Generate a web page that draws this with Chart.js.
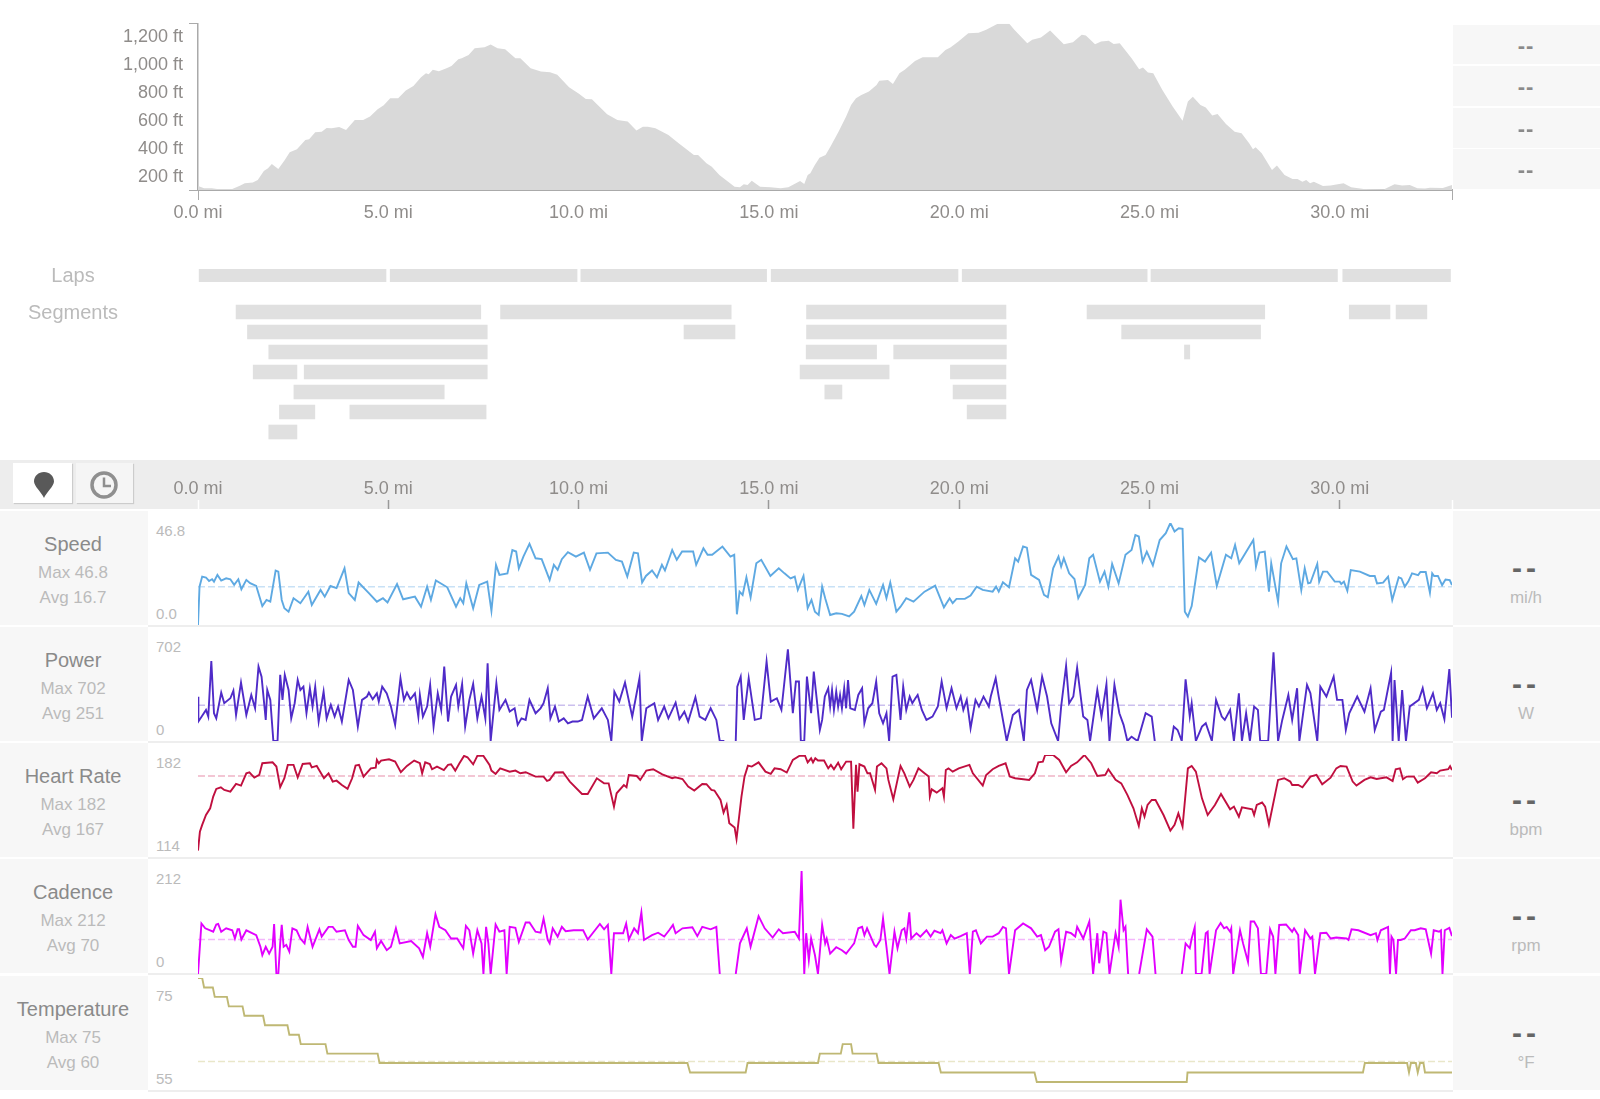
<!DOCTYPE html>
<html>
<head>
<meta charset="utf-8">
<title>Ride analysis</title>
<script src="https://cdn.jsdelivr.net/npm/chart.js@4"></script>
<style>
  html, body { margin: 0; padding: 0; background: #fff; }
  body { position: relative; width: 1600px; height: 1099px; overflow: hidden; font-family: "Liberation Sans", sans-serif; }
  canvas { position: absolute; left: 0; }
  .abs { position: absolute; }
  .txt { position: absolute; transform: translate(-50%, -50%); white-space: nowrap; }
  .ylab { position: absolute; left: 156px; transform: translateY(-50%); font-size: 15px; color: #bbb; }
  .panel { position: absolute; background: #f7f7f7; }
</style>
</head>
<body>
<div class="abs" style="left:0;top:460px;width:1600px;height:49px;background:#ededed"></div>
<div class="abs" style="left:13px;top:463px;width:59px;height:40px;background:#fff;box-shadow:1px 1px 1px #ccc"></div>
<div class="abs" style="left:76px;top:463px;width:57px;height:40px;background:#f5f5f5;box-shadow:1px 1px 1px #ccc"></div>
<svg class="abs" style="left:33px;top:471px" width="22" height="28" viewBox="0 0 22 28"><path d="M11 27C9 22 1 15 1 10.500C1 5 5.500 1 11 1C16.500 1 21 5 21 10.500C21 15 13 22 11 27Z" fill="#595959"/></svg>
<svg class="abs" style="left:89px;top:470px" width="30" height="30" viewBox="0 0 30 30"><circle cx="15" cy="15" r="12" fill="none" stroke="#8f8f8f" stroke-width="3.500"/><path d="M15 7.500V16H22" fill="none" stroke="#8f8f8f" stroke-width="2.500"/></svg>

<canvas id="elevation"></canvas>
<canvas id="laps"></canvas>
<canvas id="segments"></canvas>
<canvas id="distance"></canvas>

<script>
const totalMiles = 32.95;
const distanceTicks = [0, 5, 10, 15, 20, 25, 30];
const elevationTicks = [200, 400, 600, 800, 1000, 1200];

const elevationMiles = [0,.16,.36,.5,.9,1.1,1.23,1.44,1.57,1.73,1.84,1.94,2.11,2.28,2.41,2.6,2.82,2.92,3.08,3.25,3.38,3.51,3.71,3.89,4.12,4.34,4.52,4.72,4.88,5.05,5.26,5.46,5.66,5.86,5.99,6.06,6.17,6.33,6.53,6.66,6.84,6.93,7.11,7.27,7.53,7.69,7.87,8.07,8.34,8.47,8.74,9.01,9.25,9.44,9.75,10.01,10.19,10.35,10.75,11.02,11.29,11.52,11.69,11.82,12.02,12.36,12.63,13.03,13.14,13.36,13.5,13.7,14.1,14.24,14.34,14.44,14.55,14.77,15.04,15.31,15.51,15.71,15.82,15.93,16.02,16.09,16.2,16.33,16.49,16.62,16.83,17.03,17.16,17.29,17.43,17.63,17.83,17.9,18.13,18.26,18.43,18.57,18.84,19.04,19.44,19.64,19.77,19.98,20.24,20.51,20.71,21.05,21.29,21.45,21.79,21.92,22.15,22.39,22.75,22.99,23.22,23.33,23.57,23.73,23.93,24.06,24.22,24.53,24.73,24.83,24.96,25.1,25.34,25.61,25.87,26.01,26.14,26.34,26.48,26.65,26.79,27.01,27.24,27.42,27.62,27.72,27.79,27.95,28.22,28.35,28.55,28.76,28.89,29.02,29.12,29.22,29.32,29.56,29.76,30.1,30.3,30.63,31.17,31.44,31.64,31.84,32.04,32.24,32.37,32.71,32.95];
const elevationFeet = [134,117,117,112,112,136,153,158,177,241,260,292,256,320,375,397,464,468,519,523,550,547,557,535,607,607,631,684,712,763,763,818,851,913,942,935,966,956,978,994,1042,1049,1073,1121,1128,1147,1121,1114,1049,1049,978,954,949,930,841,794,758,755,648,607,595,531,559,559,547,500,440,356,356,296,272,213,129,124,146,141,172,129,124,117,124,153,170,148,213,225,280,337,356,416,523,631,715,763,786,810,858,887,894,865,942,966,1030,1057,1057,1109,1126,1169,1229,1231,1253,1301,1305,1253,1157,1181,1198,1248,1150,1164,1217,1212,1150,1169,1174,1152,1157,1049,970,982,947,942,822,703,602,739,774,715,696,638,650,578,523,511,440,397,411,368,248,280,213,184,184,165,177,153,165,134,138,153,124,112,110,146,138,141,117,115,122,119,141];

const lapStarts = [.03,5.05,10.06,15.06,20.08,25.04,30.08];
const lapEnds = [4.94,9.96,14.94,19.97,24.94,29.94,32.91];

const segmentRowNames = ["a","b","c","d","e","f","g"];
const segmentRows = ["a","a","a","a","a","a","b","b","b","b","c","c","c","c","d","d","d","d","e","e","e","f","f","f","g"];
const segmentStarts = [1,7.95,15.99,23.36,30.25,31.48,1.3,12.77,15.99,24.27,1.86,15.98,18.28,25.92,1.45,2.79,15.82,19.77,2.52,16.47,19.84,2.14,3.99,20.21,1.86];
const segmentEnds = [7.43,14.01,21.23,28.03,31.32,32.29,7.6,14.11,21.24,27.92,7.6,17.83,21.24,26.06,2.6,7.6,18.16,21.23,6.47,16.92,21.23,3.07,7.57,21.23,2.6];

const speedMiles = [0,.04,.11,.21,.29,.37,.42,.51,.61,.74,.85,.95,1.06,1.14,1.27,1.37,1.53,1.69,1.8,1.9,2.04,2.11,2.2,2.27,2.38,2.51,2.69,2.9,2.99,3.22,3.33,3.48,3.64,3.85,3.96,4.12,4.22,4.49,4.7,4.86,4.98,5.23,5.39,5.7,5.86,6.02,6.12,6.25,6.55,6.78,6.89,6.97,7.05,7.23,7.39,7.6,7.71,7.83,7.92,8.13,8.26,8.36,8.43,8.55,8.71,8.87,9.03,9.24,9.35,9.45,9.56,9.72,9.93,10.14,10.3,10.47,10.77,10.98,11.14,11.28,11.45,11.56,11.67,11.77,11.93,12.06,12.19,12.27,12.46,12.58,12.72,13.01,13.09,13.28,13.39,13.51,13.78,13.99,14.09,14.16,14.23,14.31,14.41,14.52,14.67,14.8,15.04,15.26,15.41,15.57,15.68,15.76,15.91,16.02,16.12,16.21,16.31,
16.4,16.48,16.61,16.77,16.92,17.11,17.24,17.43,17.51,17.64,17.82,18,18.09,18.19,18.35,18.46,18.61,18.8,19.09,19.37,19.6,19.75,19.83,19.93,20.15,20.3,20.46,20.62,20.88,20.97,21.04,21.15,21.31,21.47,21.55,21.68,21.78,21.89,22.1,22.23,22.33,22.47,22.61,22.68,22.75,22.89,23.03,23.13,23.31,23.42,23.52,23.7,23.82,23.92,24.02,24.19,24.37,24.53,24.63,24.72,24.82,24.93,25.09,25.27,25.43,25.55,25.66,25.77,25.87,25.93,26.01,26.11,26.3,26.46,26.62,26.77,27.01,27.15,27.25,27.36,27.73,27.8,27.89,28.03,28.14,28.2,28.38,28.46,28.6,28.77,28.86,
28.99,29.08,29.17,29.23,29.41,29.46,29.56,29.67,29.87,30,30.04,30.11,30.2,30.29,30.53,30.79,30.92,30.98,31.14,31.27,31.38,31.55,31.62,31.71,31.8,31.9,32.06,32.12,32.26,32.37,32.43,32.48,32.58,32.69,32.78,32.89,32.95];
const speedValues = [0,17.6,22.2,21.8,20.2,21,19.9,23,20.4,21.4,21,18.4,21,16.4,20.7,19.2,17.9,8.7,11.5,10.7,25,24.5,11.5,7.7,6.1,12.3,10,15.3,9.2,16.1,13,17.9,16.9,26,14.6,11.5,19.5,14.6,10.7,12.3,10.3,18.8,11.8,13,8.4,17.6,11.5,20.4,17.3,8.4,12.3,10,19.1,7.7,18.4,19.9,6.5,27.6,23,23.7,34.4,33.7,26,31.4,37.2,30.6,30.2,20.7,27.6,25.3,30.2,33.4,31.4,33.2,25.3,32.9,33.2,29.9,29.1,22.2,33.2,32.9,19.5,22.5,25,21.9,27.6,25,34.4,29.9,33.7,33.7,27.6,35.2,32.2,32.2,36,31.4,32.2,4.9,15.3,13.8,21.9,12.7,28.3,29.9,22.5,26,23.7,21.4,22.2,16.1,22.5,7.7,11.5,6.1,4.6,
17.6,12.3,4.6,5.4,5.1,3.9,6.1,13.3,9.2,16.1,9.7,18.4,12.3,19.5,6.1,8.4,12.3,10.7,15.3,18.1,8.1,12.3,10,12,12,13.5,17.6,16.1,15.3,17.6,15.3,19.6,17.3,30.6,29.1,36,35.5,23,20.7,13.8,12.7,26,31.4,26.8,30.6,23.7,21.1,12.3,18.4,30.6,32.2,19.9,24.5,17.6,28,19.1,32.2,34.4,41.3,40.6,29.1,33.7,27.3,39,42.1,46.8,42.9,44.4,44.1,6.1,3.9,8.7,31,29.1,33.2,17.9,32.2,30.6,36.7,28.3,39,26.8,33.2,33.7,15.3,28.3,10.7,28.3,36,30.2,30.6,
16,26,19.1,19.4,28,19.9,24.5,24.5,19.9,19.9,18.8,19.9,15.7,25.2,24.5,22.5,22.5,19.1,19.4,22.2,11.5,21.9,21.4,17.6,19.9,23.7,22.9,24.3,24.3,14.8,23.7,22.5,22.5,18.3,20.9,20.6,18.3];

const powerMiles = [0,.01,.21,.27,.35,.42,.48,.61,.69,.85,.93,1,1.13,1.27,1.4,1.5,1.59,1.67,1.78,1.82,1.9,1.98,2.09,2.16,2.22,2.28,2.38,2.45,2.54,2.62,2.69,2.77,2.85,2.94,3.01,3.08,3.17,3.3,3.38,3.49,3.59,3.68,3.78,3.96,4.07,4.2,4.31,4.44,4.49,4.59,4.7,4.75,4.84,4.96,5.07,5.18,5.32,5.41,5.49,5.58,5.7,5.79,5.83,5.91,6.02,6.1,6.19,6.3,6.39,6.47,6.57,6.65,6.78,6.84,6.94,7.02,7.13,7.23,7.34,7.45,7.55,7.61,7.69,7.84,7.92,8.08,8.19,8.32,8.4,8.5,8.61,8.71,8.87,9,9.08,9.19,9.26,9.38,9.48,9.61,9.72,9.84,9.98,10.09,10.24,10.4,10.61,10.77,10.86,10.94,11.07,11.22,11.41,11.6,11.66,11.78,11.99,12.09,12.25,12.36,12.55,12.65,12.78,12.88,13.07,13.18,13.33,13.47,13.62,13.71,13.83,14,14.13,14.17,14.26,14.34,14.47,14.63,14.79,14.94,15.05,15.21,15.33,15.5,15.63,15.71,15.79,15.84,15.93,16,16.11,16.18,16.26,
16.34,16.4,16.47,16.56,16.61,16.66,16.71,16.77,16.82,16.87,16.92,16.98,17.03,17.08,17.14,17.26,17.35,17.45,17.51,17.61,17.72,17.82,17.9,18,18.09,18.16,18.25,18.35,18.46,18.53,18.61,18.7,18.77,18.85,18.91,19.02,19.14,19.3,19.44,19.54,19.67,19.8,19.93,20.04,20.11,20.2,20.3,20.43,20.52,20.64,20.78,20.83,20.96,21.04,21.25,21.41,21.57,21.7,21.78,21.89,22.05,22.18,22.31,22.42,22.6,22.68,22.81,22.89,23,23.1,23.26,23.37,23.44,23.63,23.74,23.87,23.95,24.08,24.21,24.32,24.42,24.53,24.69,24.9,25.06,25.14,25.4,25.58,25.64,25.74,25.85,25.95,26.06,26.11,26.22,26.38,26.48,26.64,26.75,26.9,26.98,27.12,27.22,27.35,27.43,27.54,27.64,27.75,27.85,27.91,28.12,28.26,28.38,28.49,28.65,28.75,28.88,28.94,29.14,29.23,29.41,29.49,29.65,29.84,29.93,30.07,30.16,30.25,30.46,30.65,30.81,30.92,31.08,31.16,31.35,31.39,31.44,31.55,31.64,31.74,31.84,32.08,32.18,32.29,32.45,32.55,32.64,32.75,32.88,32.95];
const powerValues = [305,134,214,168,551,191,156,333,260,294,347,179,402,179,317,225,512,443,145,351,283,0,0,455,283,455,351,156,260,420,351,374,191,363,237,374,134,340,156,248,168,237,134,420,351,99,283,306,333,287,328,271,374,328,237,111,432,283,333,287,328,168,317,168,237,386,99,328,214,512,134,306,386,237,393,99,283,393,156,306,156,535,0,397,214,283,202,225,111,156,145,283,191,225,260,363,156,237,134,156,122,134,134,145,306,156,225,145,0,340,271,402,168,432,0,225,260,145,237,156,264,150,202,134,301,168,145,225,145,0,0,null,0,374,443,145,432,145,156,546,271,294,214,631,191,409,409,0,0,443,191,478,283,
76,145,306,363,237,351,214,340,237,317,225,363,225,420,225,214,317,363,122,225,260,409,191,122,191,0,443,455,145,374,214,306,260,294,317,214,145,168,237,409,225,363,225,306,214,283,88,283,237,306,237,306,432,306,0,179,214,0,351,420,214,443,306,122,0,237,517,260,306,505,168,145,0,351,168,390,0,386,191,111,0,30,0,191,168,0,null,0,99,76,0,425,168,260,0,99,122,0,283,168,145,214,0,328,0,191,0,237,214,0,0,611,0,145,317,145,363,0,386,328,0,374,306,443,283,283,76,191,306,202,363,76,202,214,471,0,420,0,351,0,237,283,363,225,328,214,260,150,495,160];

const heartRateMiles = [0,.05,.11,.21,.32,.4,.48,.6,.69,.85,1,1.13,1.27,1.35,1.48,1.61,1.69,1.96,2.06,2.16,2.27,2.36,2.51,2.62,2.75,2.94,2.99,3.12,3.31,3.43,3.54,3.64,3.78,3.93,4.05,4.14,4.23,4.35,4.54,4.67,4.7,4.75,4.81,5.02,5.18,5.33,5.49,5.68,5.83,5.89,5.97,6.09,6.15,6.28,6.46,6.57,6.65,6.76,6.87,6.99,7.08,7.23,7.34,7.5,7.66,7.71,7.82,7.94,8.19,8.34,8.47,8.61,8.87,9.08,9.17,9.24,9.38,9.59,9.77,10.09,10.24,10.48,10.67,10.79,10.93,11,11.19,11.26,11.32,11.53,11.62,11.78,11.96,12.2,12.46,12.54,12.73,12.88,13.04,13.25,13.36,13.49,13.57,13.73,13.81,13.89,13.96,14.1,14.15,14.28,14.36,14.45,14.55,14.73,14.91,15.05,15.15,15.31,15.47,15.63,15.82,15.95,16.02,16.11,16.16,16.22,
16.29,16.45,16.56,16.63,16.71,16.82,16.9,17.03,17.16,17.22,17.29,17.33,17.38,17.51,17.59,17.66,17.79,17.84,17.96,18.09,18.14,18.27,18.38,18.46,18.56,18.7,18.8,18.93,19.09,19.2,19.23,19.28,19.41,19.56,19.6,19.65,19.72,19.83,19.99,20.27,20.36,20.62,20.71,20.88,21.04,21.22,21.33,21.47,21.84,21.99,22.08,22.2,22.26,22.47,22.63,22.81,22.94,23.1,23.29,23.47,23.63,23.84,23.92,24.11,24.26,24.42,24.58,24.72,24.8,24.87,24.95,25.06,25.16,25.37,25.55,25.66,25.76,25.87,26.01,26.11,26.22,26.38,26.53,26.72,26.88,27.12,27.22,27.35,27.43,27.7,27.75,27.82,27.96,28.04,28.14,28.38,28.54,28.7,28.75,28.91,29.02,29.23,29.39,29.54,29.76,29.91,30.02,30.18,30.34,30.44,30.65,30.81,30.97,31.23,31.39,31.47,31.58,31.66,31.76,31.95,32.05,32.24,32.4,32.55,32.64,32.85,32.9,32.95];
const heartRateValues = [118.3,130.9,135.4,142,146.5,154.3,159.4,160.5,158.7,157.6,162.7,161.6,169.8,170.5,166.9,168.7,176.5,177.1,174.3,160.5,166.5,175.4,175.4,167.1,176,176.5,173.8,174.7,166.5,169.8,164.3,164.9,162,159.4,166.5,174.9,175.4,167.6,173.1,173.6,178.7,176.5,178.3,179.1,177.6,170.5,174.7,178.3,176.5,169.8,177.1,176,172.5,174.3,172,175.4,175.8,171.6,176.5,181.4,180.5,175.8,181.4,181.4,175.4,171.6,169.4,173.1,170.9,171.6,169.8,170.5,167.6,167.6,164.7,165.4,170.3,170.5,164.3,156,156,166.5,163.1,163.1,147.6,156.5,162,160.5,168.7,168,165.4,171.6,172.5,169.1,166.5,167.1,166,160.9,158.3,162.7,162.5,158.7,158.3,152,143.6,148.7,136.5,133.6,126,154.3,167.6,174.9,174.3,177.1,170.9,169.4,173.1,172.5,170.3,178.7,181.7,181.5,177.1,179.8,177.1,179.8,
178.3,178.3,173.1,175.4,172.5,176.9,172.5,177.6,177.6,132.9,175.4,157.6,175.8,174.3,169.8,169.8,158.7,174.3,176.5,173.1,165.4,152.5,165.4,174.7,169.8,160.9,165.4,173.1,169.8,167.6,154.3,159.1,156.9,159.8,154.3,172,173.1,170.9,173.1,175.4,169.8,161.6,168.7,172.5,174.7,176.5,167.6,166.5,165.4,169.8,177.1,177.6,182,182,178.7,170.5,174.7,177.1,182,176.5,168,168.7,172.5,165.4,163.1,155.4,146.5,134.7,146.5,140.9,148.7,152,152,142,131.6,135.4,143.1,134.3,173.1,174.7,170.9,153.1,142,148.7,156,145.8,147.6,140.9,147.1,145.8,142,148.7,150.3,147.6,135.8,165.4,166.5,164.3,162,162,160.5,167.6,168.7,162.5,166.9,173.1,174.7,174.3,164.3,161.6,165.4,167.1,166,167.1,164.7,172.5,173.1,165.8,167.6,167.6,163.6,166.5,170.5,169.8,171.6,172.5,174.5,172];

const cadenceMiles = [0,.09,.19,.4,.48,.53,.61,.74,.9,.97,1.04,1.08,1.14,1.27,1.53,1.64,1.69,1.78,1.87,1.96,2,2.06,2.11,2.16,2.2,2.25,2.32,2.4,2.48,2.59,2.69,2.8,2.88,3.01,3.19,3.25,3.43,3.54,3.64,3.86,3.96,4.07,4.14,4.2,4.35,4.54,4.65,4.7,4.81,4.96,5.07,5.2,5.3,5.6,5.81,5.91,6.02,6.1,6.24,6.34,6.5,6.65,6.81,6.97,7.04,7.13,7.23,7.34,7.45,7.5,7.57,7.63,7.69,7.82,7.92,8.05,8.11,8.19,8.34,8.43,8.61,8.71,8.87,9,9.08,9.19,9.24,9.32,9.45,9.56,9.66,9.87,10.12,10.24,10.56,10.67,10.77,10.86,10.93,11.17,11.25,11.32,11.46,11.56,11.65,11.72,11.93,12.09,12.25,12.38,12.48,12.55,12.73,12.99,13.12,13.25,13.47,13.62,13.71,13.9,14.13,14.24,14.42,14.52,14.73,14.89,15.1,15.26,15.37,15.68,15.79,15.86,15.93,15.98,16.05,16.11,16.21,16.29,
16.4,16.48,16.52,16.61,16.77,16.92,17.03,17.14,17.24,17.35,17.45,17.51,17.58,17.77,17.82,17.93,18,18.09,18.17,18.3,18.38,18.49,18.56,18.61,18.69,18.74,18.88,18.98,19.14,19.25,19.35,19.51,19.56,19.67,19.78,19.88,20.04,20.2,20.28,20.36,20.44,20.57,20.73,20.88,21.04,21.15,21.23,21.31,21.47,21.68,21.89,22.05,22.15,22.26,22.36,22.52,22.61,22.68,22.81,22.94,23.05,23.1,23.26,23.42,23.52,23.63,23.68,23.79,23.87,23.95,24.11,24.19,24.24,24.32,24.37,24.44,24.6,24.73,24.93,25.08,25.16,25.5,25.85,25.95,26.06,26.11,26.19,26.22,26.37,26.48,26.53,26.58,26.75,26.87,26.96,27.03,27.12,27.15,27.2,27.38,27.46,27.59,27.66,27.75,27.85,27.93,28.07,28.17,28.25,28.31,28.41,28.59,28.75,28.8,28.91,28.95,29.09,29.23,29.28,29.35,29.49,29.65,29.76,29.91,30.18,30.23,30.31,30.49,30.81,30.95,30.99,31.08,31.27,31.32,31.36,31.41,31.48,31.53,31.6,31.71,31.87,31.97,32.13,32.26,32.4,32.47,32.61,32.66,32.7,32.76,32.88,32.95];
const cadenceValues = [0,104,94,87,102,103,87,94,90,73,92,92,71,90,80,56,39,56,42,56,103,0,0,63,101,56,60,46,94,90,73,63,97,56,92,77,97,97,87,90,70,56,56,99,80,70,87,53,68,49,56,94,63,68,53,35,84,56,123,97,90,73,73,53,99,90,42,90,63,0,97,63,0,102,87,90,0,97,95,66,106,106,87,85,114,70,63,94,77,97,88,90,90,71,103,92,101,0,84,84,104,71,94,84,127,70,80,85,77,90,101,84,94,96,78,97,92,97,0,null,0,63,94,56,119,94,75,92,84,87,73,212,0,84,29,73,39,0,
101,63,73,42,55,49,42,53,63,94,97,80,94,60,56,70,114,56,0,87,53,90,94,73,127,73,84,77,90,77,89,84,90,63,80,73,78,84,0,87,90,63,77,77,84,97,94,0,90,104,94,77,80,49,56,87,92,27,87,84,77,97,73,108,0,84,22,87,84,0,84,56,153,90,97,0,null,0,92,77,0,null,0,63,53,73,96,0,0,84,87,0,90,105,94,97,87,94,0,90,63,25,108,108,94,0,0,92,77,0,101,102,87,94,80,0,90,73,77,0,84,85,73,75,73,70,92,90,80,84,70,90,97,0,77,70,0,70,70,73,90,90,94,92,42,90,87,90,0,90,95,78];

const temperatureMiles = [0,.11,.16,.39,.44,.76,.81,1.17,1.22,1.71,1.76,2.35,2.4,2.65,2.7,3.35,3.4,4.72,4.77,12.86,12.93,14.39,14.44,16.29,16.34,16.89,16.94,17.16,17.2,17.83,17.88,19.46,19.52,21.98,22.04,25.98,26,30.61,30.66,31.77,31.82,31.87,32,32.05,32.11,32.2,32.24,32.95];
const temperatureValues = [75,75,73.2,73.2,71.4,71.4,69.6,69.6,67.8,67.8,66,66,64.2,64.2,62.4,62.4,60.6,60.6,58.8,58.8,57,57,58.8,58.8,60.6,60.6,62.4,62.4,60.6,60.6,58.8,58.8,57,57,55.2,55.2,57,57,58.8,58.8,57,58.8,58.8,57,58.8,58.8,57,57];

const rowNames = ["Speed", "Power", "Heart Rate", "Cadence", "Temperature"];
const rowMax = ["46.8", "702", "182", "212", "75"];
const rowAvg = ["16.7", "251", "167", "70", "60"];
const rowUnits = ["mi/h", "W", "bpm", "rpm", "°F"];
const rowBottomLabels = ["0.0", "0", "114", "0", "55"];
const avgLineValues = [17.6, 246, 168, 71, 59.1];

const rowSeries = [
  { miles: speedMiles, values: speedValues, min: 0, max: 46.8, color: "#5ea9e2", dash: "#c8e1f6", top: 523, bottom: 625 },
  { miles: powerMiles, values: powerValues, min: 0, max: 702, color: "#4f2bc8", dash: "#cbbfee", top: 639, bottom: 741 },
  { miles: heartRateMiles, values: heartRateValues, min: 114, max: 182, color: "#c00f3f", dash: "#f0b4c6", top: 755, bottom: 857 },
  { miles: cadenceMiles, values: cadenceValues, min: 0, max: 212, color: "#e200ff", dash: "#f3b6fb", top: 871, bottom: 974 },
  { miles: temperatureMiles, values: temperatureValues, min: 55, max: 75, color: "#bfb874", dash: "#e9e7c9", top: 978.3, bottom: 1083.3 },
];

Chart.defaults.font.family = '"Liberation Sans", sans-serif';
Chart.defaults.font.size = 18;
Chart.defaults.color = "#8f8c8a";
Chart.defaults.animation = false;
Chart.defaults.responsive = false;
Chart.defaults.devicePixelRatio = 1;
Chart.defaults.plugins.legend.display = false;
Chart.defaults.plugins.tooltip.enabled = false;

function placeCanvas(canvas, top, height) {
  canvas.width = 1454;
  canvas.height = height;
  canvas.style.top = top + "px";
  canvas.style.width = "1454px";
  canvas.style.height = height + "px";
}

function addDiv(cls, left, top, width, height, text, style) {
  const el = document.createElement("div");
  el.className = cls;
  el.style.left = left + "px";
  el.style.top = top + "px";
  if (width) el.style.width = width + "px";
  if (height) el.style.height = height + "px";
  if (text !== undefined) el.textContent = text;
  if (style) el.style.cssText += style;
  document.body.appendChild(el);
  return el;
}

function milesLabel(value) {
  return distanceTicks.includes(value) ? value.toFixed(1) + " mi" : "";
}

function setDistanceTicks(scale) {
  scale.ticks = distanceTicks.concat(totalMiles).map((v) => ({ value: v }));
}

// elevation profile at the top
placeCanvas(document.getElementById("elevation"), 7, 222);
new Chart(document.getElementById("elevation"), {
  type: "line",
  data: {
    datasets: [
      {
        data: elevationMiles.map((m, i) => ({ x: m, y: elevationFeet[i] })),
        backgroundColor: "#d9d9d9",
        borderWidth: 0,
        pointRadius: 0,
        fill: "start",
      },
    ],
  },
  options: {
    layout: { padding: { top: 10, right: 2 } },
    scales: {
      x: {
        type: "linear",
        min: 0,
        max: totalMiles,
        afterBuildTicks: setDistanceTicks,
        afterFit: (scale) => { scale.height = 39; },
        border: { color: "#aaa", width: 2 },
        grid: {
          drawOnChartArea: false,
          tickLength: 10,
          tickColor: (ctx) => (ctx.tick && (ctx.tick.value === 0 || ctx.tick.value === totalMiles) ? "#aaa" : "transparent"),
        },
        ticks: { callback: milesLabel, autoSkip: false, maxRotation: 0, padding: 2 },
      },
      y: {
        min: 105,
        max: 1296,
        afterBuildTicks: (scale) => {
          scale.ticks = [105].concat(elevationTicks, 1296).map((v) => ({ value: v }));
        },
        afterFit: (scale) => { scale.width = 198; },
        border: { color: "#aaa", width: 1.500 },
        grid: {
          drawOnChartArea: false,
          tickLength: 9,
          tickColor: (ctx) => (ctx.tick && (ctx.tick.value === 105 || ctx.tick.value === 1296) ? "#aaa" : "transparent"),
        },
        ticks: {
          callback: (v) => (elevationTicks.includes(v) ? v.toLocaleString("en-US") + " ft" : ""),
          autoSkip: false,
          padding: 6,
        },
      },
    },
  },
});

function barChart(id, top, height, labels, rows, starts, ends, thickness) {
  const canvas = document.getElementById(id);
  placeCanvas(canvas, top, height);
  new Chart(canvas, {
    type: "bar",
    data: {
      labels: labels,
      datasets: [
        {
          data: starts.map((s, i) => ({ x: [s, ends[i]], y: rows[i] })),
          backgroundColor: "#e0e0e0",
          barThickness: thickness,
        },
      ],
    },
    options: {
      indexAxis: "y",
      layout: { padding: { left: 198, right: 2 } },
      scales: {
        x: { type: "linear", min: 0, max: totalMiles, display: false },
        y: { type: "category", display: false },
      },
    },
  });
}

barChart("laps", 269, 13, ["Laps"], lapStarts.map(() => "Laps"), lapStarts, lapEnds, 13);
barChart("segments", 302, 140, segmentRowNames, segmentRows, segmentStarts, segmentEnds, 14);

addDiv("txt", 73, 275, 0, 0, "Laps", "font-size:20px;color:#bbb");
addDiv("txt", 73, 312, 0, 0, "Segments", "font-size:20px;color:#bbb");

// distance axis in the grey band
placeCanvas(document.getElementById("distance"), 455, 56);
new Chart(document.getElementById("distance"), {
  type: "line",
  data: { datasets: [] },
  options: {
    layout: { padding: { right: 2, left: 198 } },
    scales: {
      x: {
        type: "linear",
        position: "top",
        min: 0,
        max: totalMiles,
        afterBuildTicks: setDistanceTicks,
        afterFit: (scale) => { scale.height = 54; },
        border: { display: false },
        grid: {
          drawOnChartArea: false,
          tickLength: 9,
          tickWidth: 1.500,
          tickColor: (ctx) => (ctx.tick && (ctx.tick.value === 0 || ctx.tick.value === totalMiles) ? "#fff" : "#999"),
        },
        ticks: { callback: milesLabel, autoSkip: false, maxRotation: 0, padding: 0 },
      },
      y: { display: false },
    },
  },
});

// the five stacked rows
const topPanels = [[25, 39], [66, 40], [108, 40], [149, 40]];
const rowTops = [511, 627, 743, 859, 976];

topPanels.forEach((p) => {
  addDiv("panel", 1453, p[0], 147, p[1]);
  addDiv("txt", 1526, p[0] + p[1] / 2 + 1, 0, 0, "--", "font-size:22px;font-weight:bold;color:#8a8a8a;letter-spacing:1px");
});

rowNames.forEach((name, i) => {
  const top = rowTops[i];
  addDiv("panel", 0, top, 148, 114);
  addDiv("panel", 1453, top, 147, 114);
  addDiv("abs", 148, top + 114, 1305, 2, undefined, "background:#eeeeee");
  addDiv("txt", 73, top + 33, 0, 0, name, "font-size:20px;color:#8a8a8a");
  addDiv("txt", 73, top + 61.500, 0, 0, "Max " + rowMax[i], "font-size:17px;color:#bbb");
  addDiv("txt", 73, top + 87, 0, 0, "Avg " + rowAvg[i], "font-size:17px;color:#bbb");
  addDiv("ylab", 156, top + 19, 0, 0, rowMax[i]);
  addDiv("ylab", 156, top + 102, 0, 0, rowBottomLabels[i]);
  addDiv("txt", 1526, top + 57, 0, 0, "--", "font-size:30px;font-weight:bold;color:#666;letter-spacing:4px");
  addDiv("txt", 1526, top + 87, 0, 0, rowUnits[i], "font-size:17px;color:#bbb");

  const s = rowSeries[i];
  const canvas = document.createElement("canvas");
  document.body.appendChild(canvas);
  const pad = 3;
  placeCanvas(canvas, s.top - pad, s.bottom - s.top + pad * 2);
  new Chart(canvas, {
    type: "line",
    data: {
      datasets: [
        {
          data: s.miles.map((m, j) => ({ x: m, y: s.values[j] })),
          borderColor: s.color,
          borderWidth: 1.900,
          pointRadius: 0,
          tension: 0,
          spanGaps: false,
          fill: false,
        },
        {
          data: [{ x: 0, y: avgLineValues[i] }, { x: totalMiles, y: avgLineValues[i] }],
          borderColor: s.dash,
          borderWidth: 1.500,
          borderDash: [7, 3],
          pointRadius: 0,
          fill: false,
        },
      ],
    },
    options: {
      layout: { padding: { left: 198, right: 2, top: pad, bottom: pad } },
      scales: {
        x: { type: "linear", min: 0, max: totalMiles, display: false },
        y: { min: s.min, max: s.max, display: false },
      },
    },
  });
});
</script>
</body>
</html>
